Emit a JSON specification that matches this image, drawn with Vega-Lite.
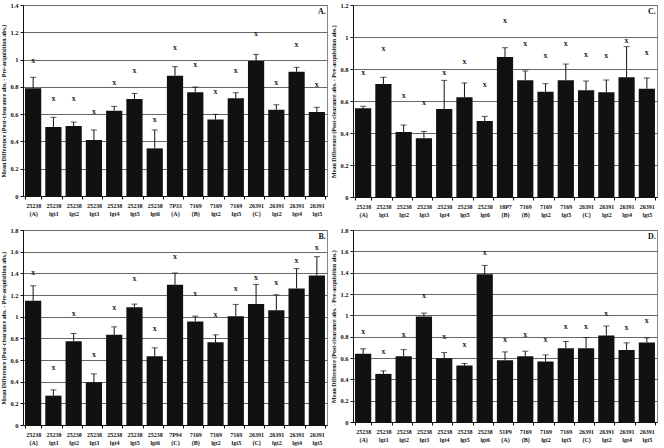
{
  "$schema": "https://vega.github.io/schema/vega-lite/v6.json",
  "padding": {"left": 0, "top": 1, "right": 2, "bottom": 0},
  "background": "white",
  "config": {
    "font": "Liberation Serif",
    "view": {"stroke": "#888", "strokeWidth": 1},
    "axis": {"labelFont": "Liberation Serif", "labelFontWeight": "bold", "labelFontSize": 6.5, "labelColor": "#111", "titleFont": "Liberation Serif", "titleFontWeight": "bold", "titleFontSize": 6, "titleColor": "#111", "domainColor": "#111", "tickColor": "#111", "tickSize": 3},
    "axisY": {"gridColor": "#666", "gridWidth": 1, "labelPadding": 2, "titlePadding": 3},
    "axisX": {"grid": false, "labelAngle": 0, "labelFontSize": 6, "labelLineHeight": 8, "tickBand": "extent", "labelPadding": 3}
  },
  "datasets": {
    "d": [
      {"p": "A", "cat": "25238|(A)", "v": 0.79, "e": 0.87, "m": 0.99},
      {"p": "A", "cat": "25238|lgt1", "v": 0.506, "e": 0.577, "m": 0.713},
      {"p": "A", "cat": "25238|lgt2", "v": 0.513, "e": 0.542, "m": 0.713},
      {"p": "A", "cat": "25238|lgt3", "v": 0.41, "e": 0.484, "m": 0.616},
      {"p": "A", "cat": "25238|lgt4", "v": 0.625, "e": 0.657, "m": 0.83},
      {"p": "A", "cat": "25238|lgt5", "v": 0.711, "e": 0.752, "m": 0.916},
      {"p": "A", "cat": "25238|lgt6", "v": 0.349, "e": 0.484, "m": 0.555},
      {"p": "A", "cat": "7P33|(A)", "v": 0.882, "e": 0.948, "m": 1.082},
      {"p": "A", "cat": "7169|(B)", "v": 0.76, "e": 0.799, "m": 0.963},
      {"p": "A", "cat": "7169|lgt2", "v": 0.56, "e": 0.599, "m": 0.76},
      {"p": "A", "cat": "7169|lgt5", "v": 0.716, "e": 0.757, "m": 0.919},
      {"p": "A", "cat": "26391|(C)", "v": 0.99, "e": 1.038, "m": 1.19},
      {"p": "A", "cat": "26391|lgt2", "v": 0.633, "e": 0.669, "m": 0.83},
      {"p": "A", "cat": "26391|lgt4", "v": 0.911, "e": 0.943, "m": 1.109},
      {"p": "A", "cat": "26391|lgt5", "v": 0.616, "e": 0.65, "m": 0.816},

      {"p": "C", "cat": "25238|(A)", "v": 0.554, "e": 0.567, "m": 0.777},
      {"p": "C", "cat": "25238|lgt1", "v": 0.706, "e": 0.748, "m": 0.927},
      {"p": "C", "cat": "25238|lgt2", "v": 0.406, "e": 0.45, "m": 0.629},
      {"p": "C", "cat": "25238|lgt3", "v": 0.367, "e": 0.41, "m": 0.59},
      {"p": "C", "cat": "25238|lgt4", "v": 0.55, "e": 0.729, "m": 0.775},
      {"p": "C", "cat": "25238|lgt5", "v": 0.623, "e": 0.713, "m": 0.844},
      {"p": "C", "cat": "25238|lgt6", "v": 0.475, "e": 0.504, "m": 0.698},
      {"p": "C", "cat": "18P7|(B)", "v": 0.875, "e": 0.933, "m": 1.098},
      {"p": "C", "cat": "7169|(B)", "v": 0.729, "e": 0.788, "m": 0.954},
      {"p": "C", "cat": "7169|lgt2", "v": 0.658, "e": 0.708, "m": 0.883},
      {"p": "C", "cat": "7169|lgt5", "v": 0.729, "e": 0.831, "m": 0.954},
      {"p": "C", "cat": "26391|(C)", "v": 0.667, "e": 0.725, "m": 0.89},
      {"p": "C", "cat": "26391|lgt2", "v": 0.654, "e": 0.731, "m": 0.883},
      {"p": "C", "cat": "26391|lgt4", "v": 0.748, "e": 0.94, "m": 0.973},
      {"p": "C", "cat": "26391|lgt5", "v": 0.677, "e": 0.744, "m": 0.898},

      {"p": "B", "cat": "25238|(A)", "v": 1.147, "e": 1.285, "m": 1.4},
      {"p": "B", "cat": "25238|lgt1", "v": 0.271, "e": 0.324, "m": 0.527},
      {"p": "B", "cat": "25238|lgt2", "v": 0.774, "e": 0.845, "m": 1.026},
      {"p": "B", "cat": "25238|lgt3", "v": 0.395, "e": 0.472, "m": 0.65},
      {"p": "B", "cat": "25238|lgt4", "v": 0.832, "e": 0.906, "m": 1.082},
      {"p": "B", "cat": "25238|lgt5", "v": 1.088, "e": 1.116, "m": 1.344},
      {"p": "B", "cat": "25238|lgt6", "v": 0.635, "e": 0.712, "m": 0.888},
      {"p": "B", "cat": "7P94|(C)", "v": 1.295, "e": 1.403, "m": 1.551},
      {"p": "B", "cat": "7169|(B)", "v": 0.956, "e": 1.005, "m": 1.208},
      {"p": "B", "cat": "7169|lgt2", "v": 0.764, "e": 0.832, "m": 1.014},
      {"p": "B", "cat": "7169|lgt5", "v": 1.005, "e": 1.113, "m": 1.255},
      {"p": "B", "cat": "26391|(C)", "v": 1.116, "e": 1.298, "m": 1.359},
      {"p": "B", "cat": "26391|lgt2", "v": 1.06, "e": 1.202, "m": 1.307},
      {"p": "B", "cat": "26391|lgt4", "v": 1.261, "e": 1.443, "m": 1.514},
      {"p": "B", "cat": "26391|lgt5", "v": 1.381, "e": 1.554, "m": 1.637},

      {"p": "D", "cat": "25238|(A)", "v": 0.639, "e": 0.686, "m": 0.842},
      {"p": "D", "cat": "25238|lgt1", "v": 0.451, "e": 0.479, "m": 0.654},
      {"p": "D", "cat": "25238|lgt2", "v": 0.617, "e": 0.679, "m": 0.814},
      {"p": "D", "cat": "25238|lgt3", "v": 0.989, "e": 1.021, "m": 1.183},
      {"p": "D", "cat": "25238|lgt4", "v": 0.598, "e": 0.651, "m": 0.798},
      {"p": "D", "cat": "25238|lgt5", "v": 0.529, "e": 0.548, "m": 0.726},
      {"p": "D", "cat": "25238|lgt6", "v": 1.384, "e": 1.468, "m": 1.584},
      {"p": "D", "cat": "51P9|(A)", "v": 0.579, "e": 0.657, "m": 0.77},
      {"p": "D", "cat": "7169|(B)", "v": 0.617, "e": 0.664, "m": 0.814},
      {"p": "D", "cat": "7169|lgt2", "v": 0.567, "e": 0.629, "m": 0.77},
      {"p": "D", "cat": "7169|lgt5", "v": 0.692, "e": 0.755, "m": 0.892},
      {"p": "D", "cat": "26391|(C)", "v": 0.692, "e": 0.792, "m": 0.892},
      {"p": "D", "cat": "26391|lgt2", "v": 0.811, "e": 0.899, "m": 1.008},
      {"p": "D", "cat": "26391|lgt4", "v": 0.676, "e": 0.742, "m": 0.883},
      {"p": "D", "cat": "26391|lgt5", "v": 0.745, "e": 0.789, "m": 0.949}
    ]
  },
  "data": {"name": "d"},
  "spacing": 8,
  "vconcat": [
    {
      "spacing": 2,
      "hconcat": [
        {
          "width": 304, "height": 191,
          "transform": [{"filter": "datum.p == 'A'"}],
          "encoding": {
            "x": {"field": "cat", "type": "nominal", "sort": null, "title": null, "scale": {"paddingInner": 0.2, "paddingOuter": 0.1}, "axis": {"labelExpr": "datum.value ? split(datum.value, '|') : ''"}}
          },
          "layer": [
            {"mark": {"type": "bar", "color": "#111"}, "encoding": {"y": {"field": "v", "type": "quantitative", "scale": {"domain": [0, 1.4]}, "title": "Mean Difference (Post-clearance abs. - Pre-acquisition abs.)", "axis": {"values": [0, 0.2, 0.4, 0.6, 0.8, 1, 1.2, 1.4], "format": "~g"}}}},
            {"mark": {"type": "rule", "color": "#111", "strokeWidth": 1}, "encoding": {"y": {"field": "v", "type": "quantitative", "title": "Mean Difference (Post-clearance abs. - Pre-acquisition abs.)", "axis": {"values": [0, 0.2, 0.4, 0.6, 0.8, 1, 1.2, 1.4], "format": "~g"}}, "y2": {"field": "e"}}},
            {"mark": {"type": "tick", "color": "#111", "size": 6, "thickness": 1}, "encoding": {"y": {"field": "e", "type": "quantitative", "title": "Mean Difference (Post-clearance abs. - Pre-acquisition abs.)", "axis": {"values": [0, 0.2, 0.4, 0.6, 0.8, 1, 1.2, 1.4], "format": "~g"}}}},
            {"mark": {"type": "text", "text": "x", "font": "Liberation Serif", "fontWeight": "bold", "fontSize": 8, "color": "#222", "baseline": "middle"}, "encoding": {"y": {"field": "m", "type": "quantitative", "title": "Mean Difference (Post-clearance abs. - Pre-acquisition abs.)", "axis": {"values": [0, 0.2, 0.4, 0.6, 0.8, 1, 1.2, 1.4], "format": "~g"}}}},
            {"transform": [{"filter": "datum.cat == '26391|lgt5'"}], "mark": {"type": "text", "text": "A.", "font": "Liberation Serif", "fontWeight": "bold", "fontSize": 8, "color": "#111", "align": "right", "baseline": "top", "dx": 9, "dy": 3}, "encoding": {"y": {"datum": 1.4, "type": "quantitative", "title": "Mean Difference (Post-clearance abs. - Pre-acquisition abs.)", "axis": {"values": [0, 0.2, 0.4, 0.6, 0.8, 1, 1.2, 1.4], "format": "~g"}}}}
          ]
        },
        {
          "width": 304, "height": 192,
          "transform": [{"filter": "datum.p == 'C'"}],
          "encoding": {
            "x": {"field": "cat", "type": "nominal", "sort": null, "title": null, "scale": {"paddingInner": 0.2, "paddingOuter": 0.1}, "axis": {"labelExpr": "datum.value ? split(datum.value, '|') : ''"}}
          },
          "layer": [
            {"mark": {"type": "bar", "color": "#111"}, "encoding": {"y": {"field": "v", "type": "quantitative", "scale": {"domain": [0, 1.2]}, "title": "Mean Difference (Post-clearance abs. - Pre-acquisition abs.)", "axis": {"values": [0, 0.2, 0.4, 0.6, 0.8, 1, 1.2], "format": "~g"}}}},
            {"mark": {"type": "rule", "color": "#111", "strokeWidth": 1}, "encoding": {"y": {"field": "v", "type": "quantitative", "title": "Mean Difference (Post-clearance abs. - Pre-acquisition abs.)", "axis": {"values": [0, 0.2, 0.4, 0.6, 0.8, 1, 1.2], "format": "~g"}}, "y2": {"field": "e"}}},
            {"mark": {"type": "tick", "color": "#111", "size": 6, "thickness": 1}, "encoding": {"y": {"field": "e", "type": "quantitative", "title": "Mean Difference (Post-clearance abs. - Pre-acquisition abs.)", "axis": {"values": [0, 0.2, 0.4, 0.6, 0.8, 1, 1.2], "format": "~g"}}}},
            {"mark": {"type": "text", "text": "x", "font": "Liberation Serif", "fontWeight": "bold", "fontSize": 8, "color": "#222", "baseline": "middle"}, "encoding": {"y": {"field": "m", "type": "quantitative", "title": "Mean Difference (Post-clearance abs. - Pre-acquisition abs.)", "axis": {"values": [0, 0.2, 0.4, 0.6, 0.8, 1, 1.2], "format": "~g"}}}},
            {"transform": [{"filter": "datum.cat == '26391|lgt5'"}], "mark": {"type": "text", "text": "C.", "font": "Liberation Serif", "fontWeight": "bold", "fontSize": 8, "color": "#111", "align": "right", "baseline": "top", "dx": 9, "dy": 3}, "encoding": {"y": {"datum": 1.2, "type": "quantitative", "title": "Mean Difference (Post-clearance abs. - Pre-acquisition abs.)", "axis": {"values": [0, 0.2, 0.4, 0.6, 0.8, 1, 1.2], "format": "~g"}}}}
          ]
        }
      ]
    },
    {
      "spacing": 2,
      "hconcat": [
        {
          "width": 304, "height": 195,
          "transform": [{"filter": "datum.p == 'B'"}],
          "encoding": {
            "x": {"field": "cat", "type": "nominal", "sort": null, "title": null, "scale": {"paddingInner": 0.2, "paddingOuter": 0.1}, "axis": {"labelExpr": "datum.value ? split(datum.value, '|') : ''"}}
          },
          "layer": [
            {"mark": {"type": "bar", "color": "#111"}, "encoding": {"y": {"field": "v", "type": "quantitative", "scale": {"domain": [0, 1.8]}, "title": "Mean Difference (Post-clearance abs. - Pre-acquisition abs.)", "axis": {"values": [0, 0.2, 0.4, 0.6, 0.8, 1, 1.2, 1.4, 1.6, 1.8], "format": "~g"}}}},
            {"mark": {"type": "rule", "color": "#111", "strokeWidth": 1}, "encoding": {"y": {"field": "v", "type": "quantitative", "title": "Mean Difference (Post-clearance abs. - Pre-acquisition abs.)", "axis": {"values": [0, 0.2, 0.4, 0.6, 0.8, 1, 1.2, 1.4, 1.6, 1.8], "format": "~g"}}, "y2": {"field": "e"}}},
            {"mark": {"type": "tick", "color": "#111", "size": 6, "thickness": 1}, "encoding": {"y": {"field": "e", "type": "quantitative", "title": "Mean Difference (Post-clearance abs. - Pre-acquisition abs.)", "axis": {"values": [0, 0.2, 0.4, 0.6, 0.8, 1, 1.2, 1.4, 1.6, 1.8], "format": "~g"}}}},
            {"mark": {"type": "text", "text": "x", "font": "Liberation Serif", "fontWeight": "bold", "fontSize": 8, "color": "#222", "baseline": "middle"}, "encoding": {"y": {"field": "m", "type": "quantitative", "title": "Mean Difference (Post-clearance abs. - Pre-acquisition abs.)", "axis": {"values": [0, 0.2, 0.4, 0.6, 0.8, 1, 1.2, 1.4, 1.6, 1.8], "format": "~g"}}}},
            {"transform": [{"filter": "datum.cat == '26391|lgt5'"}], "mark": {"type": "text", "text": "B.", "font": "Liberation Serif", "fontWeight": "bold", "fontSize": 8, "color": "#111", "align": "right", "baseline": "top", "dx": 9, "dy": 3}, "encoding": {"y": {"datum": 1.8, "type": "quantitative", "title": "Mean Difference (Post-clearance abs. - Pre-acquisition abs.)", "axis": {"values": [0, 0.2, 0.4, 0.6, 0.8, 1, 1.2, 1.4, 1.6, 1.8], "format": "~g"}}}}
          ]
        },
        {
          "width": 304, "height": 192,
          "transform": [{"filter": "datum.p == 'D'"}],
          "encoding": {
            "x": {"field": "cat", "type": "nominal", "sort": null, "title": null, "scale": {"paddingInner": 0.2, "paddingOuter": 0.1}, "axis": {"labelExpr": "datum.value ? split(datum.value, '|') : ''"}}
          },
          "layer": [
            {"mark": {"type": "bar", "color": "#111"}, "encoding": {"y": {"field": "v", "type": "quantitative", "scale": {"domain": [0, 1.8]}, "title": "Mean Difference (Post-clearance abs. - Pre-acquisition abs.)", "axis": {"values": [0, 0.2, 0.4, 0.6, 0.8, 1, 1.2, 1.4, 1.6, 1.8], "format": "~g"}}}},
            {"mark": {"type": "rule", "color": "#111", "strokeWidth": 1}, "encoding": {"y": {"field": "v", "type": "quantitative", "title": "Mean Difference (Post-clearance abs. - Pre-acquisition abs.)", "axis": {"values": [0, 0.2, 0.4, 0.6, 0.8, 1, 1.2, 1.4, 1.6, 1.8], "format": "~g"}}, "y2": {"field": "e"}}},
            {"mark": {"type": "tick", "color": "#111", "size": 6, "thickness": 1}, "encoding": {"y": {"field": "e", "type": "quantitative", "title": "Mean Difference (Post-clearance abs. - Pre-acquisition abs.)", "axis": {"values": [0, 0.2, 0.4, 0.6, 0.8, 1, 1.2, 1.4, 1.6, 1.8], "format": "~g"}}}},
            {"mark": {"type": "text", "text": "x", "font": "Liberation Serif", "fontWeight": "bold", "fontSize": 8, "color": "#222", "baseline": "middle"}, "encoding": {"y": {"field": "m", "type": "quantitative", "title": "Mean Difference (Post-clearance abs. - Pre-acquisition abs.)", "axis": {"values": [0, 0.2, 0.4, 0.6, 0.8, 1, 1.2, 1.4, 1.6, 1.8], "format": "~g"}}}},
            {"transform": [{"filter": "datum.cat == '26391|lgt5'"}], "mark": {"type": "text", "text": "D.", "font": "Liberation Serif", "fontWeight": "bold", "fontSize": 8, "color": "#111", "align": "right", "baseline": "top", "dx": 9, "dy": 3}, "encoding": {"y": {"datum": 1.8, "type": "quantitative", "title": "Mean Difference (Post-clearance abs. - Pre-acquisition abs.)", "axis": {"values": [0, 0.2, 0.4, 0.6, 0.8, 1, 1.2, 1.4, 1.6, 1.8], "format": "~g"}}}}
          ]
        }
      ]
    }
  ]
}
